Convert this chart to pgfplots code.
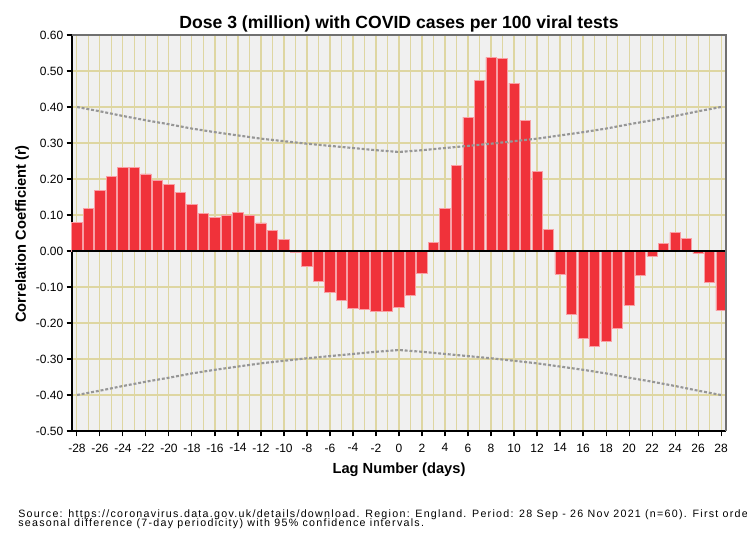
\documentclass[border=0pt]{standalone}
\usepackage{fontspec}
\setmainfont{Liberation Sans}
\newfontfamily\footfont[LetterSpace=12]{Liberation Sans}
\usepackage{pgfplots}
\pgfplotsset{compat=1.18}
\usepackage{pgfplotstable}

\definecolor{barred}{RGB}{240,50,58}
\definecolor{baredge}{RGB}{248,160,165}
\definecolor{gridk}{RGB}{222,214,162}
\definecolor{panel}{RGB}{240,240,240}
\definecolor{cigray}{RGB}{150,150,150}
\definecolor{frame}{RGB}{112,112,112}

% cross-correlation by lag
\pgfplotstableread{
lag r
-28 0.079
-27 0.118
-26 0.168
-25 0.207
-24 0.231
-23 0.233
-22 0.214
-21 0.196
-20 0.184
-19 0.162
-18 0.129
-17 0.104
-16 0.094
-15 0.100
-14 0.107
-13 0.098
-12 0.078
-11 0.057
-10 0.031
-9 -0.005
-8 -0.044
-7 -0.083
-6 -0.115
-5 -0.137
-4 -0.160
-3 -0.163
-2 -0.167
-1 -0.169
0 -0.157
1 -0.123
2 -0.062
3 0.023
4 0.118
5 0.238
6 0.372
7 0.474
8 0.538
9 0.535
10 0.466
11 0.363
12 0.220
13 0.061
14 -0.064
15 -0.176
16 -0.244
17 -0.266
18 -0.250
19 -0.215
20 -0.151
21 -0.069
22 -0.015
23 0.020
24 0.052
25 0.034
26 -0.007
27 -0.086
28 -0.166
}\ccf

% 95% confidence limits
\pgfplotstableread{
lag up lo
-28 0.400 -0.400
-26 0.388 -0.388
-24 0.375 -0.375
-22 0.363 -0.363
-20 0.352 -0.352
-18 0.340 -0.340
-16 0.330 -0.330
-14 0.321 -0.321
-12 0.312 -0.312
-10 0.305 -0.305
-8 0.298 -0.298
-6 0.292 -0.292
-4 0.286 -0.286
-2 0.280 -0.280
0 0.275 -0.275
2 0.280 -0.280
4 0.286 -0.286
6 0.292 -0.292
8 0.298 -0.298
10 0.305 -0.305
12 0.312 -0.312
14 0.321 -0.321
16 0.330 -0.330
18 0.340 -0.340
20 0.352 -0.352
22 0.363 -0.363
24 0.375 -0.375
26 0.388 -0.388
28 0.400 -0.400
}\cilim

\begin{document}
\begin{tikzpicture}
\path[use as bounding box] (0,0) rectangle (560.25pt,405.75pt);
\begin{axis}[
    at={(54pt,82.5pt)}, anchor=south west,
    scale only axis, width=490.5pt, height=297pt,
    xmin=-28.43, xmax=28.43, ymin=-0.5, ymax=0.6,
    axis background/.style={fill=panel},
    axis x line*=bottom, axis y line*=left,
    axis line style={black, line width=0.9pt, -},
    xtick={-28,-26,...,28},
    minor xtick={-27,-25,...,27},
    ytick={-0.5,-0.4,-0.3,-0.2,-0.1,0,0.1,0.2,0.3,0.4,0.5,0.6},
    grid=both,
    major grid style={gridk, line width=0.8pt},
    minor grid style={gridk, line width=0.8pt},
    tick align=outside,
    major tick length=4pt, minor tick length=0pt,
    tick style={black, line width=0.8pt},
    ticklabel style={font=\fontsize{9}{10}\selectfont},
    xticklabel style={yshift=-2pt},
    /pgf/number format/assume math mode=true,
    yticklabel style={xshift=1pt, /pgf/number format/.cd, fixed, fixed zerofill, precision=2},
    ybar, bar width=0.9,
    clip=false,
]
\addplot[fill=barred, draw=baredge, line width=0.5pt] table[x=lag, y=r] {\ccf};
\addplot[sharp plot, cigray, line width=1.6pt, dash pattern=on 2.2pt off 1.4pt] table[x=lag, y=up] {\cilim};
\addplot[sharp plot, cigray, line width=1.6pt, dash pattern=on 2.2pt off 1.4pt] table[x=lag, y=lo] {\cilim};
\draw[black, line width=1.5pt] (axis cs:-28.43,0) -- (axis cs:28.43,0);
\draw[frame, line width=1.2pt] (rel axis cs:0,1) -- (rel axis cs:1,1) -- (rel axis cs:1,0);
\end{axis}
\node[anchor=base, font=\bfseries\fontsize{13.2}{15}\selectfont] at (299.25pt,384.5pt) {Dose 3 (million) with COVID cases per 100 viral tests};
\node[rotate=90, font=\bfseries\fontsize{11}{13}\selectfont] at (16.5pt,230.25pt) {Correlation Coefficient (r)};
\node[anchor=base, font=\bfseries\fontsize{11}{13}\selectfont] at (299.25pt,50.25pt) {Lag Number (days)};
\node[anchor=base west, inner sep=0pt, font=\footfont\fontsize{8}{9}\selectfont] at (13.5pt,17.5pt) {Source: https://coronavirus.data.gov.uk/details/download. Region: England. Period: 28 Sep - 26 Nov 2021 (n=60). First order};
\node[anchor=base west, inner sep=0pt, font=\footfont\fontsize{8}{9}\selectfont] at (13.5pt,10.5pt) {seasonal difference (7-day periodicity) with 95\% confidence intervals.};
\end{tikzpicture}
\end{document}
